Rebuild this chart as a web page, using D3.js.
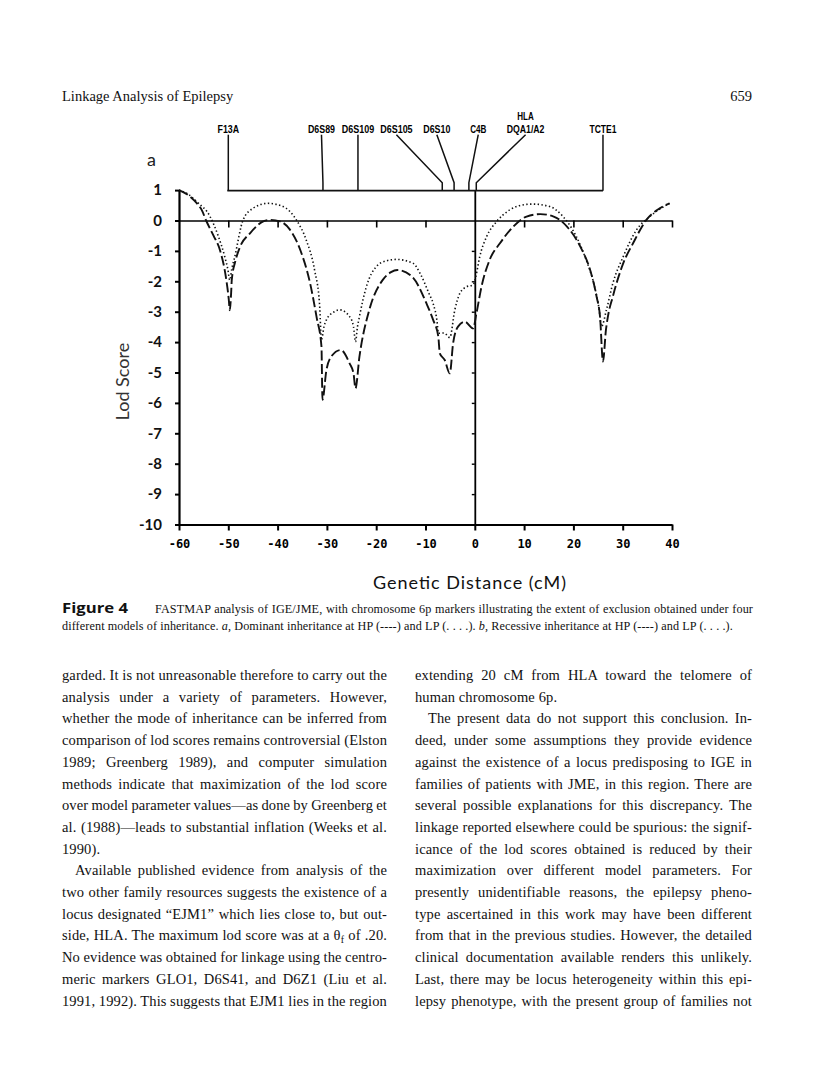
<!DOCTYPE html>
<html><head><meta charset="utf-8">
<script src="https://cdn.jsdelivr.net/npm/d3@7"></script>
<style>body{margin:0;background:#fff} svg{display:block}</style>
</head><body>
<svg id="page" width="816" height="1081"></svg>
<script>
// ---------- data ----------
const xTicks = [-60,-50,-40,-30,-20,-10,0,10,20,30,40];
const zeroLineTicks = [-50,-40,-30,-20,-10,10,20,30,40];
const yTicks = [1,0,-1,-2,-3,-4,-5,-6,-7,-8,-9,-10];
const hlaAxisTicks = [-1,-2,-3,-4,-5,-6,-7,-8,-9];

const markerNames = ["F13A","D6S89","D6S109","D6S105","D6S10","C4B","DQA1/A2","TCTE1"];
const markerPos   = [-50, -30.8, -23.7, -6.6, -4.2, -1.2, 0.3, 26];
const markerLabelPos = [-50, -31.1, -23.7, -15.9, -7.7, 0.7, 10.3, 26];

// HP (dashed) lod scores
const hpX = [-60,-58,-56.4,-55.4,-54.5,-53,-51.7,-50.4,-49.9,-49.7,-49.4,-49.3,-48.5,-47.6,-45.6,-42.9,-41.5,-39.5,-37.5,-35.4,-33.4,-32.1,-31.1,-30.9,-30.1,-29,-27.2,-25.4,-24.6,-24.2,-23.4,-21.4,-18.7,-17,-15.7,-12.7,-9.8,-8.45,-7.4,-7.1,-6.1,-5.07,-4.4,-3.4,-2.0,-0.34,0.34,1.35,3.0,5.1,7.8,10.5,13.3,16.0,18.7,21.4,23.4,24.7,25.4,26.0,26.6,27.0,28.0,30.1,32.1,34.8,37.5,39.5];
const hpY = [1.0,0.82,0.57,0.35,0.0,-0.5,-0.97,-1.96,-2.6,-2.95,-2.3,-1.96,-1.3,-0.86,-0.42,-0.03,0.02,-0.03,-0.3,-0.97,-2.07,-3.17,-4.15,-5.9,-4.92,-4.45,-4.26,-4.7,-5.03,-5.52,-4.48,-2.94,-1.96,-1.7,-1.63,-1.85,-2.73,-3.27,-3.82,-4.37,-4.59,-5.03,-4.04,-3.49,-3.33,-3.55,-3.05,-2.18,-1.30,-0.75,-0.2,0.13,0.21,0.13,-0.2,-0.86,-1.63,-2.5,-3.16,-4.64,-3.6,-3.16,-2.5,-1.41,-0.75,0.02,0.40,0.565];

// LP (dotted) lod scores
const lpX = [-60,-58,-56.4,-53.7,-52.0,-50.7,-50.1,-49.7,-49.3,-48.7,-47.0,-45.0,-42.0,-38.9,-36.2,-34.2,-32.5,-31.5,-31.1,-30.6,-30.1,-28.5,-27.4,-25.4,-24.6,-24.2,-23.8,-23.4,-22.0,-20.0,-18,-15.9,-12.5,-11.1,-9.3,-8.45,-7.6,-7.4,-6.2,-5.07,-4.05,-3.04,-1.7,-0.34,0.2,1.0,2.4,4.4,7.1,10.5,11.8,15.2,17.9,20.6,22.6,24.3,25.2,25.7,26.7,28.0,30.1,32.8,35.5,39.5];
const lpY = [1.0,0.85,0.62,0.13,-0.53,-1.2,-1.6,-1.96,-1.6,-1.2,0.02,0.40,0.565,0.46,0.02,-0.64,-1.63,-2.73,-3.93,-3.5,-3.27,-3.0,-2.94,-3.16,-3.5,-3.99,-3.5,-3.16,-2.18,-1.52,-1.33,-1.28,-1.41,-1.74,-2.4,-2.73,-3.4,-3.71,-3.7,-3.85,-2.94,-2.4,-2.18,-2.12,-1.85,-1.19,-0.53,-0.04,0.35,0.53,0.54,0.46,0.13,-0.53,-1.3,-2.18,-2.9,-3.49,-2.94,-2.07,-1.19,-0.31,0.13,0.565];

// ---------- page texts ----------
const headerLeft = "Linkage Analysis of Epilepsy";
const headerRight = "659";
const figLabel = "Figure 4";
const captionLines = [
  "FASTMAP analysis of IGE/JME, with chromosome 6p markers illustrating the extent of exclusion obtained under four",
  "different models of inheritance. <i>a</i>, Dominant inheritance at HP (----) and LP (. . . .). <i>b</i>, Recessive inheritance at HP (----) and LP (. . . .)."
];
const leftColumn = [
  "garded. It is not unreasonable therefore to carry out the",
  "analysis under a variety of parameters. However,",
  "whether the mode of inheritance can be inferred from",
  "comparison of lod scores remains controversial (Elston",
  "1989; Greenberg 1989), and computer simulation",
  "methods indicate that maximization of the lod score",
  "over model parameter values—as done by Greenberg et",
  "al. (1988)—leads to substantial inflation (Weeks et al.",
  "1990).|",
  ">Available published evidence from analysis of the",
  "two other family resources suggests the existence of a",
  "locus designated “EJM1” which lies close to, but out-",
  "side, HLA. The maximum lod score was at a θ<sub>f</sub> of .20.",
  "No evidence was obtained for linkage using the centro-",
  "meric markers GLO1, D6S41, and D6Z1 (Liu et al.",
  "1991, 1992). This suggests that EJM1 lies in the region"
];
const rightColumn = [
  "extending 20 cM from HLA toward the telomere of",
  "human chromosome 6p.|",
  ">The present data do not support this conclusion. In-",
  "deed, under some assumptions they provide evidence",
  "against the existence of a locus predisposing to IGE in",
  "families of patients with JME, in this region. There are",
  "several possible explanations for this discrepancy. The",
  "linkage reported elsewhere could be spurious: the signif-",
  "icance of the lod scores obtained is reduced by their",
  "maximization over different model parameters. For",
  "presently unidentifiable reasons, the epilepsy pheno-",
  "type ascertained in this work may have been different",
  "from that in the previous studies. However, the detailed",
  "clinical documentation available renders this unlikely.",
  "Last, there may be locus heterogeneity within this epi-",
  "lepsy phenotype, with the present group of families not"
];

// ---------- drawing ----------
const svg = d3.select("#page");
const SERIF = "'Liberation Serif','DejaVu Serif',serif";
const GEO = "Lato,'Noto Sans',sans-serif";
const MONO = "'DejaVu Sans Mono','Liberation Mono',monospace";
const COND = "'Liberation Sans',Arial,sans-serif";

const x = d3.scaleLinear().domain([-60, 40]).range([179, 672]);
const y = d3.scaleLinear().domain([-10, 1]).range([524.5, 190.1]);

function richText(parent, str, px, py, opts) {
  const t = parent.append("text").attr("x", px).attr("y", py)
    .attr("font-family", opts.family).attr("font-size", opts.size).attr("fill", "#111")
    .style("letter-spacing", (opts.ls || 0) + "px");
  const parts = str.split(/(<i>[^<]*<\/i>|<sub>[^<]*<\/sub>)/);
  let shift = 0; let plain = "";
  parts.forEach(p => {
    if (!p) return;
    let ts;
    if (p.startsWith("<i>")) { ts = t.append("tspan").attr("font-style","italic").text(p.slice(3,-4)); plain += p.slice(3,-4); }
    else if (p.startsWith("<sub>")) { ts = t.append("tspan").attr("font-size", opts.size*0.68).attr("dy", 3).text(p.slice(5,-6)); shift = 3; plain += p.slice(5,-6); return; }
    else { ts = t.append("tspan").text(p); plain += p; }
    if (shift) { ts.attr("dy", -shift); shift = 0; }
  });
  if (opts.width) {
    const len = t.node().getComputedTextLength();
    const spaces = (plain.match(/ /g) || []).length;
    if (spaces) t.style("word-spacing", ((opts.width - len) / spaces) + "px");
  }
  return t;
}

// header
svg.append("text").attr("x", 62).attr("y", 101).attr("font-family", SERIF).attr("font-size", 14.5).attr("fill","#111").text(headerLeft);
svg.append("text").attr("x", 752).attr("y", 101).attr("text-anchor","end").attr("font-family", SERIF).attr("font-size", 14.5).attr("fill","#111").text(headerRight);

// ---- chart ----
const chart = svg.append("g");

// panel letter
chart.append("text").attr("x", 147).attr("y", 166).attr("font-family", GEO).attr("font-size", 18).attr("fill","#222").text("a");

// y axis (left)
const yAxis = chart.append("g").attr("transform", `translate(${x(-60)},0)`)
  .call(d3.axisLeft(y).tickValues(yTicks).tickSize(4).tickSizeOuter(0).tickPadding(13).tickFormat(d => String(d)));
yAxis.select(".domain").attr("stroke-width", 2.2);
yAxis.selectAll(".tick line").attr("stroke-width", 2);
yAxis.selectAll(".tick text").attr("font-family", GEO).attr("font-size", 15).attr("font-weight", 700).attr("fill","#111");

// bottom axis
const xAxis = chart.append("g").attr("transform", `translate(0,${y(-10)})`)
  .call(d3.axisBottom(x).tickValues(xTicks).tickSize(6).tickSizeOuter(0).tickPadding(9).tickFormat(d => String(d)));
xAxis.select(".domain").attr("stroke-width", 2.2);
xAxis.selectAll(".tick line").attr("stroke-width", 2);
xAxis.selectAll(".tick text").attr("font-family", MONO).attr("font-size", 12).attr("font-weight", 700).attr("fill","#000");

// zero line with ticks
const zAxis = chart.append("g").attr("transform", `translate(0,${y(0)})`)
  .call(d3.axisBottom(x).tickValues(zeroLineTicks).tickSize(7).tickSizeOuter(0).tickFormat(""));
zAxis.select(".domain").attr("stroke-width", 1.6);
zAxis.selectAll(".tick line").attr("stroke-width", 1.6);

// vertical line at HLA (0 cM)
const vAxis = chart.append("g").attr("transform", `translate(${x(0)},0)`)
  .call(d3.axisLeft(y).tickValues(hlaAxisTicks).tickSize(3).tickSizeOuter(0).tickFormat(""));
vAxis.select(".domain").attr("stroke-width", 1.8);
vAxis.selectAll(".tick line").attr("stroke-width", 1.4);

// axis titles
chart.append("text").attr("transform", `translate(129,${y(-5.3)}) rotate(-90)`).attr("text-anchor","middle")
  .attr("font-family", GEO).attr("font-size", 18).attr("fill","#333").text("Lod Score");
chart.append("text").attr("x", 373).attr("y", 589).attr("textLength", 193).attr("lengthAdjust","spacing")
  .attr("font-family", GEO).attr("font-size", 18).attr("fill","#111").text("Genetic Distance (cM)");

// marker map
const barY = y(1) + 0.6;
const markers = markerNames.map((n, i) => ({name: n, pos: markerPos[i], lab: markerLabelPos[i]}));
const mk = chart.append("g").attr("fill","none").attr("stroke","#111").attr("stroke-width", 1.5);
mk.append("line").attr("x1", x(markerPos[0]) - 1).attr("x2", x(markerPos[markerPos.length-1]))
  .attr("y1", barY).attr("y2", barY).attr("stroke-width", 1.8);
mk.selectAll("path.m").data(markers).join("path").attr("class","m")
  .attr("d", d => `M${x(d.lab)},${barY-56} L${x(d.pos)},${barY-8} L${x(d.pos)},${d.pos === 0.3 ? y(1) : barY}`);
const ml = chart.append("g").attr("font-family", COND).attr("font-weight", 700).attr("font-size", 10.5)
  .attr("text-anchor","middle").attr("fill","#000");
ml.selectAll("text").data(markers).join("text")
  .attr("x", d => x(d.lab)).attr("y", barY - 58)
  .attr("textLength", d => d.name.length * 5.4).attr("lengthAdjust","spacingAndGlyphs")
  .text(d => d.name);
ml.append("text").attr("x", x(markerLabelPos[6])).attr("y", barY - 70.5)
  .attr("textLength", 16.5).attr("lengthAdjust","spacingAndGlyphs").text("HLA");

// curves
const line = d3.line().x(d => x(d[0])).y(d => y(d[1])).curve(d3.curveMonotoneX);
const hp = hpX.map((v, i) => [v, hpY[i]]);
const lp = lpX.map((v, i) => [v, lpY[i]]);
chart.append("path").datum(lp).attr("d", line).attr("fill","none").attr("stroke","#111")
  .attr("stroke-width", 1.6).attr("stroke-dasharray", "1.4 2.4");
chart.append("path").datum(hp).attr("d", line).attr("fill","none").attr("stroke","#111")
  .attr("stroke-width", 1.9).attr("stroke-dasharray", "10 3.5");

// ---- caption ----
svg.append("text").attr("x", 62).attr("y", 613).attr("font-family", "'Open Sans',Lato,sans-serif")
  .attr("font-weight", 700).attr("font-size", 14).attr("textLength", 66).attr("lengthAdjust","spacingAndGlyphs")
  .attr("fill","#111").text(figLabel);
richText(svg, captionLines[0], 155, 613, {family: SERIF, size: 12.2, ls: 0.1, width: 598});
richText(svg, captionLines[1], 62, 630, {family: SERIF, size: 12.2, ls: 0.1});

// ---- body columns ----
function column(lines, x0, width, y0, lead) {
  lines.forEach((s, i) => {
    let str = s, indent = 0, just = true;
    if (str.startsWith(">")) { str = str.slice(1); indent = 13; }
    if (str.endsWith("|")) { str = str.slice(0, -1); just = false; }
    richText(svg, str, x0 + indent, y0 + i * lead, {family: SERIF, size: 14.5, ls: 0.12, width: just ? width - indent : 0});
  });
}
column(leftColumn, 62, 325, 680, 21.7);
column(rightColumn, 415, 337, 680, 21.7);
</script>
</body></html>
